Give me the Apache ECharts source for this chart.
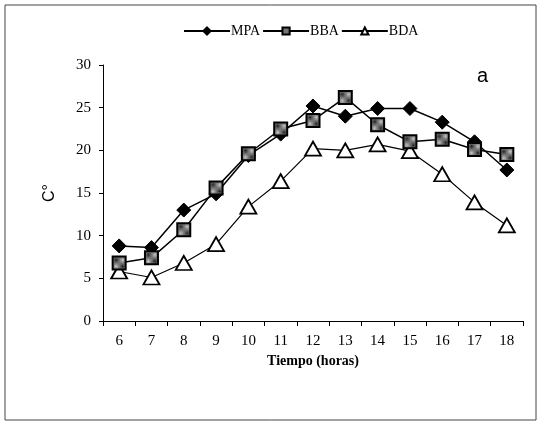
<!DOCTYPE html>
<html>
<head>
<meta charset="utf-8">
<script src="https://cdn.jsdelivr.net/npm/echarts@6/dist/echarts.min.js"></script>
<style>
  html, body { margin: 0; padding: 0; background: #fff; }
  #chart { width: 537px; height: 426px; }
</style>
</head>
<body>
<div id="chart"></div>
<script>
// Hours of the day (x axis categories)
const hours = ['6', '7', '8', '9', '10', '11', '12', '13', '14', '15', '16', '17', '18'];

// Temperature (°C) per hour for each treatment
const mpa = [8.8, 8.6, 13.0, 14.9, 19.4, 21.9, 25.2, 24.0, 24.9, 24.9, 23.3, 21.0, 17.7];
const bba = [6.8, 7.4, 10.7, 15.6, 19.6, 22.5, 23.5, 26.2, 23.0, 21.0, 21.3, 20.1, 19.5];
const bda = [5.8, 5.1, 6.8, 9.0, 13.4, 16.4, 20.2, 20.0, 20.7, 19.9, 17.2, 13.9, 11.2];

// Y axis scale
const yMin = 0, yMax = 30, yStep = 5;

// Grey checker fill for the square markers
function checker() {
  const c = document.createElement('canvas');
  c.width = 2; c.height = 2;
  const g = c.getContext('2d');
  g.fillStyle = '#c8c8c8'; g.fillRect(0, 0, 2, 2);
  g.fillStyle = '#222222';
  g.fillRect(0, 0, 1, 1); g.fillRect(1, 1, 1, 1);
  return c;
}

const serif = '"Liberation Serif", "DejaVu Serif", serif';
const chart = echarts.init(document.getElementById('chart'), null, { renderer: 'canvas' });

chart.setOption({
  animation: false,
  backgroundColor: '#ffffff',
  textStyle: { fontFamily: serif, color: '#000' },
  graphic: [
    {
      type: 'rect',
      shape: { x: 5, y: 5, width: 531, height: 415 },
      style: { fill: 'none', stroke: '#444', lineWidth: 1 },
      silent: true
    },
    {
      type: 'text',
      left: 477, top: 66,
      style: { text: 'a', font: '20px "Liberation Sans", Arial, sans-serif', fill: '#000' }
    }
  ],
  legend: {
    top: 19,
    left: 178,
    itemWidth: 46,
    itemHeight: 9,
    itemGap: 2,
    textStyle: { fontFamily: serif, fontSize: 14, color: '#000', padding: [0, 0, 0, -4] },
    data: ['MPA', 'BBA', 'BDA']
  },
  grid: { left: 103, right: 14, top: 65, bottom: 105 },
  xAxis: {
    type: 'category',
    data: hours,
    boundaryGap: true,
    name: 'Tiempo (horas)',
    nameLocation: 'middle',
    nameGap: 31,
    nameTextStyle: { fontFamily: serif, fontSize: 14, fontWeight: 'bold', color: '#000' },
    axisLine: { lineStyle: { color: '#000', width: 1 } },
    axisTick: { show: true, alignWithLabel: false, length: 5, lineStyle: { color: '#000' } },
    axisLabel: { fontFamily: serif, fontSize: 15, color: '#000', margin: 13 },
    splitLine: { show: false }
  },
  yAxis: {
    type: 'value',
    min: yMin, max: yMax, interval: yStep,
    name: 'C°',
    nameLocation: 'middle',
    nameRotate: 90,
    nameGap: 45,
    nameTextStyle: { fontFamily: '"Liberation Sans", Arial, sans-serif', fontSize: 16, color: '#000' },
    axisLine: { show: true, lineStyle: { color: '#000', width: 1 } },
    axisTick: { show: true, length: 4, lineStyle: { color: '#000' } },
    axisLabel: { fontFamily: serif, fontSize: 15, color: '#000', margin: 12 },
    splitLine: { show: false }
  },
  series: [
    {
      name: 'MPA', type: 'line', data: mpa, z: 3,
      symbol: 'diamond', symbolSize: 14,
      lineStyle: { color: '#000', width: 1.5 },
      itemStyle: { color: '#000', borderColor: '#000', borderWidth: 1 }
    },
    {
      name: 'BBA', type: 'line', data: bba, z: 4,
      symbol: 'rect', symbolSize: 13,
      lineStyle: { color: '#000', width: 1.5 },
      itemStyle: { color: { image: checker(), repeat: 'repeat' }, borderColor: '#000', borderWidth: 2 }
    },
    {
      name: 'BDA', type: 'line', data: bda, z: 2,
      symbol: 'triangle', symbolSize: [16, 14],
      lineStyle: { color: '#000', width: 1.2 },
      itemStyle: { color: '#fff', borderColor: '#000', borderWidth: 1.8 }
    }
  ]
});
</script>
</body>
</html>
